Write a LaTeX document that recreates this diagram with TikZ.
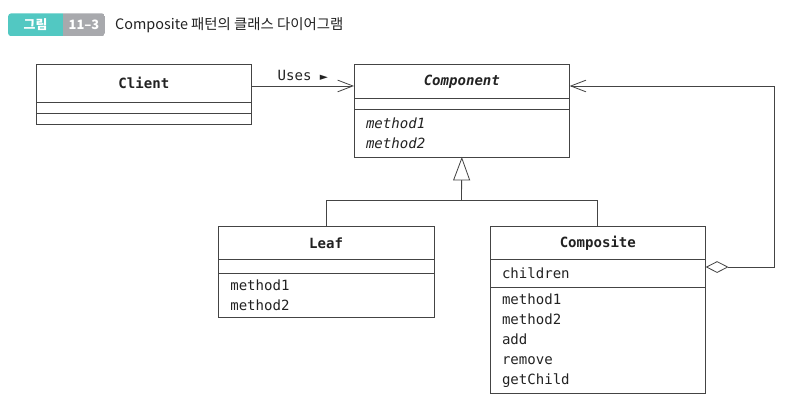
\documentclass[tikz,border=0pt]{standalone}
\usepackage{fontspec}
\setmonofont{DejaVu Sans Mono}
\newfontfamily\krfont{Noto Sans CJK KR}
\newfontfamily\symfont{DejaVu Sans}
\usetikzlibrary{positioning, calc, arrows.meta}

\definecolor{figteal}{RGB}{82,200,194}
\definecolor{figgrey}{RGB}{168,169,173}
\definecolor{umlline}{RGB}{68,68,68}
\definecolor{umltext}{RGB}{34,34,34}

\tikzset{
	cname/.style={draw=umlline, line width=0.7pt, outer sep=0pt, inner sep=0pt, minimum width=6.47cm, text=umltext, font=\ttfamily\bfseries\fontsize{12}{17}\selectfont},
	cpart/.style={draw=umlline, line width=0.7pt, outer sep=0pt, inner xsep=0.36cm, inner ysep=0pt, text width=5.75cm, align=left, text=umltext, font=\ttfamily\fontsize{12}{17}\selectfont},
	link/.style={draw=umlline, line width=0.7pt},
}

\begin{document}
\begin{tikzpicture}[x=0.03cm, y=-0.03cm]
			\useasboundingbox (0,0) rectangle (799,401);
			
			% caption
			\begin{scope}
				\clip[rounded corners=0.1cm] (8,13.3) rectangle (105,36.3);
				\fill[figteal] (8,13.3) rectangle (63,36.3);
				\fill[figgrey] (63,13.3) rectangle (105,36.3);
			\end{scope}
			\node (fig) at (35.5,24.8) [text=white, font=\krfont\bfseries\fontsize{11}{13}\selectfont] {그림};
			\node (fignum) at (84,24.8) [text=white, font=\krfont\bfseries\fontsize{11}{13}\selectfont] {11–3};
			\node (title) at (111,24.8) [anchor=west, text=umltext, font=\krfont\fontsize{12.3}{14}\selectfont] {Composite 패턴의 클래스 다이어그램};
			
			% classes
			\node (client) at (36,64.3) [cname, anchor=north west, minimum height=1.14cm] {Client};
			\node (clienta) [cpart, below=0pt of client, minimum height=0.33cm] {};
			\node (clientm) [cpart, below=0pt of clienta, minimum height=0.32cm] {};
			
			\node (comp) at (354,64.3) [cname, anchor=north west, minimum height=1.03cm, font=\ttfamily\bfseries\itshape\fontsize{12}{17}\selectfont] {Component};
			\node (compa) [cpart, below=0pt of comp, minimum height=0.32cm] {};
			\node (compm) [cpart, below=0pt of compa, minimum height=1.43cm, font=\ttfamily\itshape\fontsize{12}{17}\selectfont] {method1\\method2};
			
			\node (leaf) at (218.3,226.7) [cname, anchor=north west, minimum height=0.98cm] {Leaf};
			\node (leafa) [cpart, below=0pt of leaf, minimum height=0.43cm] {};
			\node (leafm) [cpart, below=0pt of leafa, minimum height=1.30cm] {method1\\method2};
			
			\node (cmps) at (490,226.7) [cname, anchor=north west, minimum height=0.98cm] {Composite};
			\node (cmpsa) [cpart, below=0pt of cmps, minimum height=0.84cm] {children};
			\node (cmpsm) [cpart, below=0pt of cmpsa, minimum height=3.18cm] {method1\\method2\\add\\remove\\getChild};
			
			\coordinate (join) at (461.5,200.7);
			\coordinate (turn) at (774,86);
			
			\draw[link, -{Straight Barb[length=13pt, width=10pt]}] ([yshift=-0.08cm]client.east) -- ([yshift=-0.08cm]client.east -| comp.west) node[pos=0.5, above=1pt, text=umltext, font=\ttfamily\fontsize{12}{14}\selectfont]{Uses {\symfont\fontsize{9}{10}\selectfont ►}};
			\draw[link] (leaf.north) |- (join) -| (cmps.north);
			\draw[link, -{Triangle[open, length=20pt, width=14.5pt]}] (join) -- (compm.south);
			\draw[link, {Diamond[open, length=19.5pt, width=10pt]}-{Straight Barb[length=13pt, width=10pt]}] ([yshift=0.19cm]cmpsa.east) -| (turn) -- (turn -| comp.east);
		\end{tikzpicture}
\end{document}
